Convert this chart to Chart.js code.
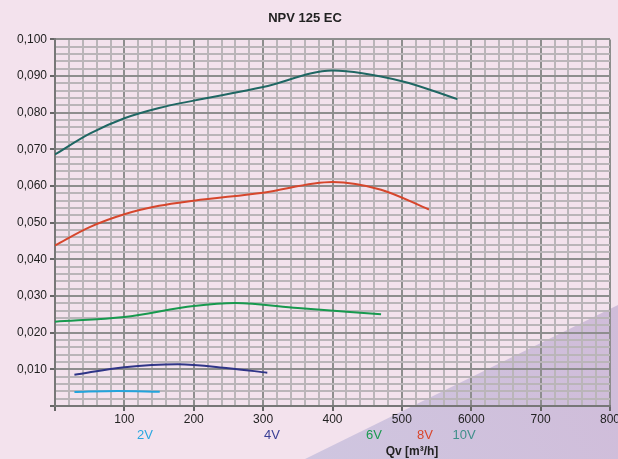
<!DOCTYPE html>
<html>
<head>
<meta charset="utf-8">
<script src="https://cdn.jsdelivr.net/npm/chart.js@4"></script>
<style>
  html, body { margin: 0; padding: 0; background: #f3e2ed; }
  #wrap { width: 618px; height: 459px; }
</style>
</head>
<body>
<div id="wrap"><canvas id="myChart" width="618" height="459"></canvas></div>
<script>
// NPV 125 EC - curves per control voltage

const ctx = document.getElementById('myChart');

const xTickLabels = ['', '100', '200', '300', '400', '500', '6000', '700', '800'];
const voltLabels = ['2V', '4V', '6V', '8V', '10V'];

// Qv [m3/h] values for each curve
const qv2V = [28, 90, 151];
const qv4V = [28, 100, 177, 250, 306];
const qv6V = [0, 100, 200, 260, 350, 470];
const qv8V = [0, 50, 100, 150, 200, 300, 400, 470, 539];
const qv10V = [0, 50, 100, 150, 200, 300, 400, 500, 580];

// y values
const val2V = [0.0038, 0.0041, 0.0039];
const val4V = [0.0085, 0.0106, 0.0114, 0.0103, 0.0091];
const val6V = [0.0230, 0.0243, 0.0273, 0.0281, 0.0267, 0.0250];
const val8V = [0.0438, 0.0488, 0.0523, 0.0546, 0.0560, 0.0582, 0.0611, 0.0590, 0.0536];
const val10V = [0.0686, 0.0743, 0.0785, 0.0813, 0.0833, 0.0870, 0.0915, 0.0886, 0.0837];

const colors = ['#22a4dc', '#2f3587', '#17994e', '#d6462c', '#1f6763'];
const labelColors = ['#2aa7e0', '#3a3f95', '#1a9a50', '#d9452b', '#3f8f8a'];

function pts(xs, ys) {
  return xs.map((x, i) => ({ x: x, y: ys[i] }));
}

Chart.defaults.font.family = '"Liberation Sans", Arial, sans-serif';
Chart.defaults.font.size = 12;
Chart.defaults.color = '#222222';

// pink page + purple corner behind the grid
const backdrop = {
  id: 'backdrop',
  beforeDraw(chart) {
    const c = chart.ctx;
    c.save();
    c.fillStyle = '#f3e2ed';
    c.fillRect(0, 0, chart.width, chart.height);
    const g = c.createLinearGradient(305, 459, 618, 305);
    g.addColorStop(0, '#cfc6e0');
    g.addColorStop(1, '#d0bcd9');
    c.fillStyle = g;
    c.beginPath();
    c.moveTo(305, 459);
    c.lineTo(618, 305);
    c.lineTo(618, 459);
    c.closePath();
    c.fill();
    c.restore();
  }
};

// voltage labels and axis title under the x axis
const footer = {
  id: 'footer',
  afterDraw(chart) {
    const c = chart.ctx;
    const xs = [145, 272, 374, 425, 464];
    c.save();
    c.font = '13px "Liberation Sans", Arial, sans-serif';
    c.textAlign = 'center';
    c.textBaseline = 'middle';
    voltLabels.forEach((t, i) => {
      c.fillStyle = labelColors[i];
      c.fillText(t, xs[i], 435);
    });
    c.fillStyle = '#222222';
    c.font = 'bold 12px "Liberation Sans", Arial, sans-serif';
    c.fillText('Qv [m³/h]', 412, 452);
    c.restore();
  }
};

function series(label, xs, ys, color) {
  return {
    label: label,
    data: pts(xs, ys),
    borderColor: color,
    borderWidth: 2,
    pointRadius: 0,
    cubicInterpolationMode: 'monotone',
    fill: false
  };
}

const isMajorX = c => c.tick && c.tick.value % 100 === 0;
const isMajorY = c => c.tick && Math.round(c.tick.value * 1000) % 10 === 0;

new Chart(ctx, {
  type: 'line',
  data: {
    datasets: [
      series('2V', qv2V, val2V, colors[0]),
      series('4V', qv4V, val4V, colors[1]),
      series('6V', qv6V, val6V, colors[2]),
      series('8V', qv8V, val8V, colors[3]),
      series('10V', qv10V, val10V, colors[4])
    ]
  },
  options: {
    responsive: false,
    animation: false,
    layout: { padding: { right: 8 } },
    plugins: {
      legend: { display: false },
      tooltip: { enabled: false },
      title: {
        display: true,
        text: 'NPV 125 EC',
        color: '#222222',
        font: { size: 13, weight: 'bold' },
        padding: { top: 11, bottom: 12.8 }
      }
    },
    scales: {
      x: {
        type: 'linear',
        min: 0,
        max: 800,
        afterFit: s => { s.height = 53; s.paddingLeft = 0; s.paddingRight = 0; },
        ticks: {
          stepSize: 20,
          autoSkip: false,
          maxRotation: 0,
          padding: 1,
          callback: v => (v % 100 === 0 ? xTickLabels[v / 100] : '')
        },
        grid: {
          color: c => (isMajorX(c) ? '#8e8e8e' : '#bab5b9'),
          lineWidth: 2,
          tickLength: 5,
          tickColor: c => (isMajorX(c) ? '#666666' : 'rgba(0,0,0,0)')
        },
        border: { color: '#777777', width: 2 }
      },
      y: {
        min: 0,
        max: 0.1,
        afterFit: s => { s.width = 55; s.paddingTop = 0; s.paddingBottom = 0; },
        ticks: {
          stepSize: 0.002,
          autoSkip: false,
          padding: 3,
          callback: v => {
            const k = Math.round(v * 1000);
            return (k % 10 === 0 && k > 0) ? (k / 1000).toFixed(3).replace('.', ',') : '';
          }
        },
        grid: {
          color: c => (isMajorY(c) ? '#8e8e8e' : '#bab5b9'),
          lineWidth: 2,
          tickLength: 5,
          tickColor: c => (isMajorY(c) ? '#666666' : 'rgba(0,0,0,0)')
        },
        border: { color: '#777777', width: 2 }
      }
    }
  },
  plugins: [backdrop, footer]
});
</script>
</body>
</html>
